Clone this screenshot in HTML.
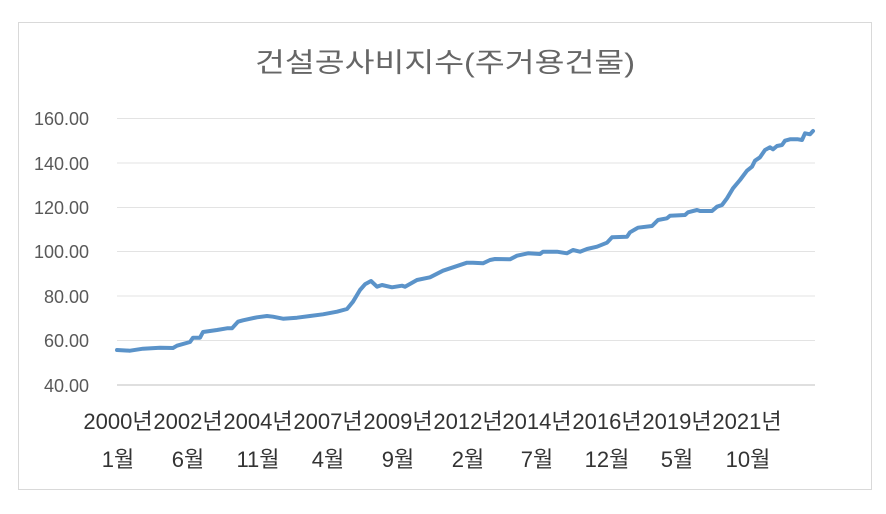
<!DOCTYPE html>
<html><head><meta charset="utf-8"><style>
html,body{margin:0;padding:0;background:#fff;}
svg{display:block;}
</style></head><body>
<svg width="886" height="514" viewBox="0 0 886 514" xmlns="http://www.w3.org/2000/svg">
<rect x="0" y="0" width="886" height="514" fill="#fff"/>
<rect x="18.5" y="22.5" width="853" height="467" fill="#fff" stroke="#d9d9d9" stroke-width="1"/>
<text x="255" y="72" font-family="'Liberation Sans','Noto Sans CJK KR',sans-serif" font-size="27" fill="#666666" textLength="380" lengthAdjust="spacingAndGlyphs">건설공사비지수(주거용건물)</text>
<g stroke="#e3e3e3" stroke-width="1">
<line x1="117" y1="118.5" x2="815" y2="118.5"/>
<line x1="117" y1="163" x2="815" y2="163"/>
<line x1="117" y1="207.5" x2="815" y2="207.5"/>
<line x1="117" y1="251.5" x2="815" y2="251.5"/>
<line x1="117" y1="296" x2="815" y2="296"/>
<line x1="117" y1="340.5" x2="815" y2="340.5"/>
</g>
<line x1="117" y1="385" x2="815" y2="385" stroke="#bfbfbf" stroke-width="1"/>
<g font-family="'Liberation Sans',sans-serif" font-size="18" fill="#595959" text-anchor="end">
<text x="89" y="125">160.00</text>
<text x="89" y="170">140.00</text>
<text x="89" y="214">120.00</text>
<text x="89" y="258">100.00</text>
<text x="89" y="303">80.00</text>
<text x="89" y="347">60.00</text>
<text x="89" y="392">40.00</text>
</g>
<g font-family="'Liberation Sans','Noto Sans CJK KR',sans-serif" font-size="22" fill="#333333" text-anchor="middle">
<text x="118" y="429">2000년</text>
<text x="188" y="429">2002년</text>
<text x="258" y="429">2004년</text>
<text x="328" y="429">2007년</text>
<text x="398" y="429">2009년</text>
<text x="468" y="429">2012년</text>
<text x="537" y="429">2014년</text>
<text x="607" y="429">2016년</text>
<text x="677" y="429">2019년</text>
<text x="747" y="429">2021년</text>
<text x="118" y="467">1월</text>
<text x="188" y="467">6월</text>
<text x="258" y="467">11월</text>
<text x="328" y="467">4월</text>
<text x="398" y="467">9월</text>
<text x="468" y="467">2월</text>
<text x="537" y="467">7월</text>
<text x="607" y="467">12월</text>
<text x="677" y="467">5월</text>
<text x="748" y="467">10월</text>
</g>
<polyline fill="none" stroke="#5b93c9" stroke-width="4" stroke-linejoin="round" stroke-linecap="round" points="
117,350 130,350.7 143,348.7 160,347.7 173,348 177,345.7 190,342 193,337.7 200,337.7 203,332 217,330 227,328.3 232,328.3 238,321.7 243,320.3 257,317.3 267,316 273,316.7 283,318.7 297,317.7 310,316 323,314.3 337,311.7 347,309 353,301.7 360,290 365,284.3 371,281 377,286.7 382,285 392,287.3 402,285.7 405,286.7 417,280 430,277.3 443,270.7 455,266.7 467,262.7 473,262.7 483,263.3 490,260 495,259 510,259.3 517,255.7 528,253.3 540,254 543,251.7 557,251.7 567,253.3 573,250 580,251.7 587,249 597,246.7 607,242.7 612,237.3 627,236.7 630,232.3 638,227.7 652,226 658,220 667,218.3 670,215.7 685,215 688,212.3 697,210 700,211 712,211 717,206.7 722,205 727,198.3 733,188.3 740,180 747,170.7 752,166.7 755,160.7 760,157.3 765,150 770,147.3 773,149.3 777,146 782,145 785,140.7 790,139.3 798,139.3 802,140 805,133.3 810,134.3 813,131"/>
</svg>
</body></html>
